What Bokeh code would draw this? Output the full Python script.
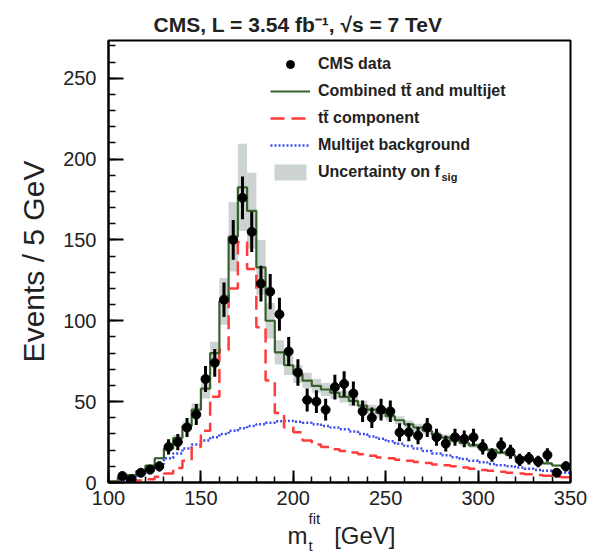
import numpy as np
from bokeh.plotting import figure
from bokeh.models import Range1d, Label, Legend, LegendItem, FixedTicker, Title
from bokeh.embed import file_html
from bokeh.resources import INLINE

# ---- data (5 GeV bins from 100 to 350 GeV) ----
bin_low = 100
bin_width = 5
n_bins = 50

data_counts = [0, 4, 2, 6, 8, 10, 22, 25, 34, 42,
               64, 74, 113, 150, 176, 155, 123, 118, 104, 81,
               68, 51, 50, 45, 59, 61, 55, 44, 40, 45,
               44, 31, 31, 29, 34, 28, 24, 28, 27, 28,
               22, 17, 23, 19, 14, 15, 13, 17, 6, 10]

combined = [0.7, 3, 4.5, 7, 10.5, 15, 21, 27.5, 35, 45,
            58, 80, 112, 152, 182.5, 168, 133, 100, 80.5, 72.5,
            67, 63, 59.8, 57.5, 55.5, 53, 50.5, 47.5, 45, 43,
            41, 38.5, 36, 34, 32, 29.5, 27.8, 26, 24.5, 23,
            21.5, 20, 18.5, 17, 15.5, 14.2, 13, 11.8, 10.5, 9.7]

ttbar = [0.2, 0.4, 0.7, 1.2, 2, 3.5, 5.5, 9, 13.5, 22,
         32, 53, 82, 120, 148.5, 132, 96, 63, 43, 34,
         31, 26, 23.5, 22, 20.5, 19.5, 18.5, 17.5, 16.5, 15.5,
         15, 14, 13.4, 12.6, 12, 11.2, 10.6, 10, 9.2, 8.5,
         7.8, 7.2, 6.6, 6, 5.6, 5.1, 4.6, 4.1, 3.6, 3.2]

multijet = [0.5, 1.5, 3, 5.5, 8.5, 11.5, 15, 18, 21, 23.5,
            26, 28, 30, 32, 33.5, 35, 36, 37, 37.8, 38,
            37.5, 37, 36, 35, 34, 33, 31.5, 30, 28.5, 27,
            25.5, 24, 22.5, 21, 19.5, 18, 16.8, 15.6, 14.5, 13.5,
            12.5, 11.5, 10.7, 10, 9.2, 8.5, 7.8, 7.2, 6.6, 6]

fsig_unc = [0.1, 0.2, 0.3, 0.4, 0.5, 0.8, 1.2, 1.8, 2.5, 4,
            6, 7, 14.5, 21.5, 27, 23.5, 17, 11, 7.5, 6,
            5.5, 4.8, 4.3, 4, 3.7, 3.5, 3.3, 3.1, 3, 2.8,
            2.7, 2.5, 2.4, 2.3, 2.2, 2, 1.9, 1.8, 1.7, 1.5,
            1.4, 1.3, 1.2, 1.1, 1, 0.9, 0.8, 0.7, 0.7, 0.6]

x_ticks = [100, 150, 200, 250, 300, 350]
y_ticks = [0, 50, 100, 150, 200, 250]

edges = bin_low + bin_width * np.arange(n_bins + 1)
centers = edges[:-1] + bin_width / 2.0

FONT = "Liberation Sans"
TXT = "#222222"

p = figure(frame_width=462, frame_height=442,
           x_range=Range1d(100, 350), y_range=Range1d(0, 273.3),
           output_backend="svg", toolbar_location=None,
           min_border_left=108, min_border_right=20,
           min_border_top=40, min_border_bottom=74)
p.xgrid.visible = False
p.ygrid.visible = False
p.outline_line_color = "black"
p.outline_line_width = 2
p.background_fill_color = "white"
p.border_fill_color = "white"

# title
p.title.text = "CMS, L = 3.54 fb\u207b\u00b9,  \u221as = 7 TeV"
p.title.align = "left"
p.title.offset = 45
p.title.text_font = FONT
p.title.text_font_style = "bold"
p.title.text_font_size = "21px"
p.title.text_color = TXT
p.title.standoff = 9

# uncertainty band
comb = np.array(combined)
unc = np.array(fsig_unc)
r_band = p.quad(left=edges[:-1], right=edges[1:], bottom=comb - unc, top=comb + unc,
                fill_color="#cdd3d3", line_color=None)

def step_xy(vals):
    return edges, list(vals) + [vals[-1]]

xs, ys = step_xy(multijet)
r_blue = p.step(xs, ys, mode="after", line_color="#3b4cf0", line_width=2.5, line_dash="2 2")
xs, ys = step_xy(ttbar)
r_red = p.step(xs, ys, mode="after", line_color="#ff3b3b", line_width=2.5, line_dash="14 7")
xs, ys = step_xy(combined)
r_green = p.step(xs, ys, mode="after", line_color="#36622a", line_width=2.2)

# data
dc = np.array(data_counts, dtype=float)
mask = dc > 0
err = np.sqrt(dc)
p.segment(x0=centers[mask], y0=(dc - err)[mask], x1=centers[mask], y1=(dc + err)[mask],
          line_color="black", line_width=3)
r_data = p.scatter(centers[mask], dc[mask], size=9, color="black")

# axes
for ax in (p.xaxis[0], p.yaxis[0]):
    ax.axis_line_width = 2
    ax.axis_line_color = "black"
    ax.major_tick_out = 0
    ax.minor_tick_out = 0
    ax.major_tick_line_width = 2
    ax.minor_tick_line_width = 1.5
    ax.major_tick_line_color = "black"
    ax.minor_tick_line_color = "black"
    ax.major_label_text_font = FONT
    ax.major_label_text_font_size = "20px"
    ax.major_label_text_color = TXT

p.yaxis.ticker = FixedTicker(ticks=y_ticks, minor_ticks=list(range(0, 271, 10)))
p.xaxis.ticker = FixedTicker(ticks=x_ticks, minor_ticks=list(range(100, 351, 10)))
p.yaxis.major_tick_in = 15
p.yaxis.minor_tick_in = 7
p.xaxis.major_tick_in = 12
p.xaxis.minor_tick_in = 6
p.yaxis.major_label_standoff = 12
p.xaxis.major_label_standoff = 8

p.yaxis.axis_label = "Events / 5 GeV"
p.yaxis.axis_label_text_font = FONT
p.yaxis.axis_label_text_font_size = "30px"
p.yaxis.axis_label_text_font_style = "normal"
p.yaxis.axis_label_text_color = TXT
p.yaxis.axis_label_standoff = 10

# x-axis label  m_t^fit [GeV]  built from stacked titles below the axis
NB = "\u00a0"
p.add_layout(Title(text="fit", align="left", offset=200, text_font=FONT,
                   text_font_size="15px", text_font_style="normal",
                   text_color=TXT, standoff=0), "below")
p.add_layout(Title(text="m" + NB * 4 + "[GeV]", align="left", offset=179, text_font=FONT,
                   text_font_size="24px", text_font_style="normal",
                   text_color=TXT, standoff=-14), "below")
p.add_layout(Title(text="t", align="left", offset=200, text_font=FONT,
                   text_font_size="15px", text_font_style="normal",
                   text_color=TXT, standoff=-14), "below")

# legend
legend = Legend(items=[
    LegendItem(label="CMS data", renderers=[r_data]),
    LegendItem(label="Combined t\u0074\u0304 and multijet", renderers=[r_green]),
    LegendItem(label="t\u0074\u0304 component", renderers=[r_red]),
    LegendItem(label="Multijet background", renderers=[r_blue]),
    LegendItem(label="Uncertainty on f", renderers=[r_band]),
], location=(162, 300), glyph_width=40, glyph_height=20, spacing=7,
    label_standoff=8, padding=0, margin=0, border_line_alpha=0,
    background_fill_alpha=0, label_text_font=FONT, label_text_font_style="bold",
    label_text_font_size="16px", label_height=20, label_text_color=TXT)
p.add_layout(legend)

def px_to_x(px):
    return 100 + (px - 108) / 1.848

def py_to_y(py):
    return (481.7 - py) / 1.616

p.add_layout(Label(x=px_to_x(441), y=py_to_y(182), text="sig", text_font=FONT,
                   text_font_style="bold", text_font_size="11px", text_color=TXT))

open("out.html", "w").write(file_html(p, INLINE))
